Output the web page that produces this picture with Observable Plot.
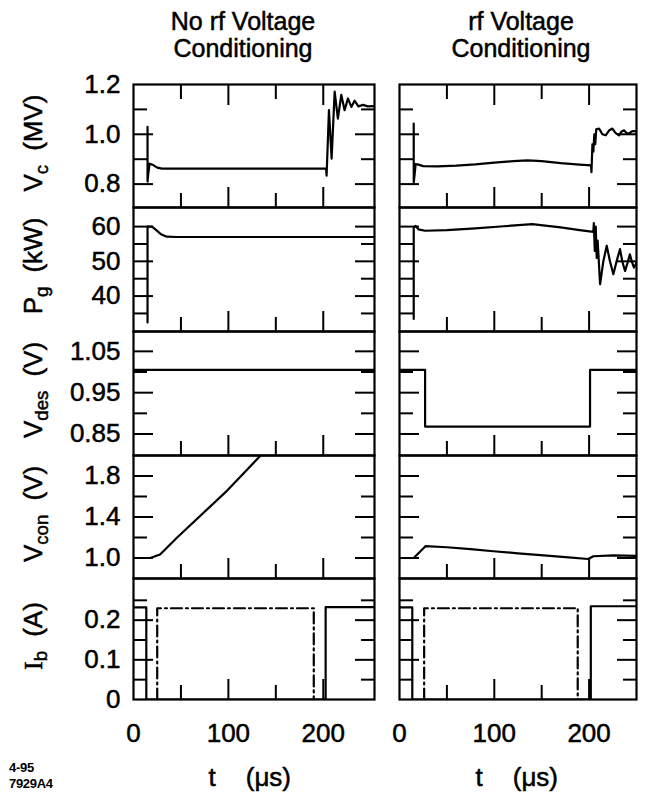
<!DOCTYPE html>
<html><head><meta charset="utf-8">
<script src="https://cdn.jsdelivr.net/npm/d3@7"></script>
<script src="https://cdn.jsdelivr.net/npm/@observablehq/plot@0.6"></script>
<style>
body{margin:0;background:#fff;}
#chart{position:relative;width:649px;height:792px;font-family:"Liberation Sans",Arial,Helvetica,sans-serif;color:#000;overflow:hidden;}
.abs{position:absolute;white-space:nowrap;-webkit-text-stroke:0.5px #000;}
.title{font-size:25px;line-height:27px;text-align:center;width:240px;}
.ylab{font-size:26px;line-height:30px;transform:translate(-50%,-50%) rotate(-90deg);}
.ylab sub{font-size:0.72em;vertical-align:-0.3em;line-height:0;}
.xlab{font-size:26px;line-height:30px;}
.stamp{font-size:13px;font-weight:bold;line-height:16px;letter-spacing:-0.3px;-webkit-text-stroke:0;}
svg text{stroke:#000;stroke-width:0.5px;}
</style></head><body><div id="chart"></div>
<script>
// ---------- column titles & axis labels ----------
const columnTitles = [["No rf Voltage", "Conditioning"], ["rf Voltage", "Conditioning"]];
const rowLabels = [["V", "c", "(MV)"], ["P", "g", "(kW)"], ["V", "des", "(V)"], ["V", "con", "(V)"], ["I", "b", "(A)"]];
const xTickLabels = [0, 100, 200];
const xMinorTicks = [50, 150];
const xMajorTicks = [100, 200];

// y tick values per row
const vcLabels = [0.8, 1.0, 1.2], vcMajor = [0.8, 1.0], vcMinor = [0.9, 1.1];
const pgLabels = [40, 50, 60], pgMajor = [40, 50, 60], pgMinor = [35, 45, 55];
const vdesLabels = [0.85, 0.95, 1.05], vdesMajor = [0.85, 0.95, 1.05], vdesMinor = [0.9, 1.0];
const vconLabels = [1.0, 1.4, 1.8], vconMajor = [1.0, 1.4, 1.8], vconMinor = [1.2, 1.6];
const ibLabels = [0, 0.1, 0.2], ibMajor = [0.1, 0.2], ibMinor = [0.05, 0.15, 0.25];

// ---------- left column: no rf voltage conditioning ----------
const vcLeftT = [14.8, 14.8, 15.5, 17, 20, 25, 30, 203, 203.5, 206, 208.8, 212, 215.4, 219, 222.5, 226, 229.6, 233, 237, 242, 247, 254];
const vcLeftV = [1.03, 0.81, 0.84, 0.882, 0.878, 0.866, 0.862, 0.862, 0.834, 1.097, 0.902, 1.171, 1.063, 1.158, 1.097, 1.144, 1.11, 1.135, 1.112, 1.118, 1.112, 1.113];
const pgLeftT = [14.8, 14.8, 19.5, 24, 29, 35, 45, 254];
const pgLeftV = [32.4, 60, 60, 59, 57.8, 57.1, 57.0, 57.0];
const vdesLeftT = [0, 254];
const vdesLeftV = [1.005, 1.005];
const vconLeftT = [12.4, 17.6, 28, 46, 99, 136];
const vconLeftV = [1.0, 1.0, 1.035, 1.2, 1.66, 2.02];
const ibLeftT = [0, 13.5, 13.5, 202.5, 202.5, 254];
const ibLeftV = [0.232, 0.232, 0, 0, 0.233, 0.233];
const ibRefLeftT = [25, 25, 190, 190];
const ibRefLeftV = [0, 0.23, 0.23, 0];

// ---------- right column: rf voltage conditioning ----------
const vcRightT = [15, 15, 16, 17, 20, 25, 40, 60, 80, 100, 120, 135, 150, 170, 190, 202, 202.5, 203.5, 204.5, 205.5, 206.5, 207.5, 210.5, 214, 217.5, 221, 224.6, 228, 231.6, 234, 236.8, 239.5, 242, 245, 247.4, 250];
const vcRightV = [1.043, 0.807, 0.84, 0.88, 0.878, 0.872, 0.871, 0.874, 0.879, 0.886, 0.892, 0.895, 0.892, 0.884, 0.878, 0.875, 0.848, 0.96, 0.93, 1.0, 0.96, 1.02, 1.023, 1.0, 0.996, 1.015, 1.023, 1.005, 0.996, 1.01, 1.016, 1.005, 1.003, 1.012, 1.013, 1.01];
const pgRightT = [15, 15, 17, 20, 27, 50, 80, 110, 140, 170, 190, 204.5, 205, 206, 207, 208, 209, 211.6, 215, 218.6, 222, 225.6, 229, 232.6, 235, 237.9, 240.5, 243, 245, 247.4, 250];
const pgRightV = [33.4, 59.7, 60.2, 59.2, 58.8, 59.0, 59.5, 60.1, 60.7, 59.8, 59.0, 58.5, 61, 53, 60, 51, 56, 43.4, 50, 54.5, 50, 46.3, 50, 53.5, 50, 47.2, 49.5, 52, 50, 48.2, 49.5];
const vdesRightT = [0, 27, 27, 201, 201, 250];
const vdesRightV = [1.005, 1.005, 0.868, 0.868, 1.005, 1.005];
const vconRightT = [3, 15, 27.4, 50, 75, 99, 125, 152, 175, 199, 204.5, 225.6, 250];
const vconRightV = [1.0, 1.0, 1.115, 1.105, 1.087, 1.066, 1.046, 1.026, 1.008, 0.99, 1.017, 1.026, 1.02];
const ibRightT = [0, 13.5, 13.5, 201.8, 201.8, 250];
const ibRightV = [0.232, 0.232, 0, 0, 0.235, 0.235];
const ibRefRightT = [26, 26, 188, 188];
const ibRefRightV = [0, 0.23, 0.23, 0];

// ---------- layout (pixels) ----------
const rowEdges = [84, 207, 331, 455, 578, 699];
const colLeft = [133, 399], colWidth = [241, 237];
const xDomains = [[0, 254], [0, 250]];

const rows = [
  {domain: [0.706, 1.2], labels: vcLabels, major: vcMajor, minor: vcMinor, fmt: d3.format(".1f"), topTicks: true,
   series: [[[vcLeftT, vcLeftV]], [[vcRightT, vcRightV]]]},
  {domain: [29.8, 65.5], labels: pgLabels, major: pgMajor, minor: pgMinor, fmt: d3.format("d"),
   series: [[[pgLeftT, pgLeftV]], [[pgRightT, pgRightV]]]},
  {domain: [0.798, 1.098], labels: vdesLabels, major: vdesMajor, minor: vdesMinor, fmt: d3.format(".2f"),
   series: [[[vdesLeftT, vdesLeftV]], [[vdesRightT, vdesRightV]]]},
  {domain: [0.8, 2.0], labels: vconLabels, major: vconMajor, minor: vconMinor, fmt: d3.format(".1f"),
   series: [[[vconLeftT, vconLeftV]], [[vconRightT, vconRightV]]]},
  {domain: [0, 0.305], labels: ibLabels, major: ibMajor, minor: ibMinor, fmt: d => d === 0 ? "0" : d3.format(".1f")(d),
   series: [[[ibLeftT, ibLeftV], [ibRefLeftT, ibRefLeftV, "11,4,2,4"]], [[ibRightT, ibRightV], [ibRefRightT, ibRefRightV, "11,4,2,4"]]]}
];

const chart = document.getElementById("chart");
const MAJ = 20, MIN = 14;
const blank = () => "";

rows.forEach((r, ri) => {
  [0, 1].forEach(ci => {
    const fw = colWidth[ci];
    const ft = rowEdges[ri], fh = rowEdges[ri + 1] - rowEdges[ri];
    const mL = ci === 0 ? 90 : 3, mR = 3, mT = 3, mB = ri === 4 ? 55 : 3;
    const [xa, xb] = xDomains[ci], [ya, yb] = r.domain;
    const marks = [];

    // inward ticks: axis tick marks shifted into the frame by their own length
    [[r.major, MAJ], [r.minor, MIN]].forEach(([vals, len]) => {
      marks.push(Plot.axisY({anchor: "left", ticks: vals, tickSize: len, dx: len, tickFormat: blank, strokeWidth: 2, label: null}));
      marks.push(Plot.axisY({anchor: "right", ticks: vals, tickSize: len, dx: -len, tickFormat: blank, strokeWidth: 2, label: null}));
    });
    [[xMajorTicks, MAJ], [xMinorTicks, MIN]].forEach(([vals, len]) => {
      marks.push(Plot.axisX({anchor: "bottom", ticks: vals, tickSize: len, dy: -len, tickFormat: blank, strokeWidth: 2, label: null}));
      if (r.topTicks) marks.push(Plot.axisX({anchor: "top", ticks: vals, tickSize: len, dy: len, tickFormat: blank, strokeWidth: 2, label: null}));
    });

    // data traces
    r.series[ci].forEach(([T, V, dash]) => {
      const o = {x: T, y: V, stroke: "black", strokeWidth: 2.2, clip: true};
      if (dash) o.strokeDasharray = dash;
      marks.push(Plot.line({length: T.length}, o));
    });
    marks.push(Plot.frame({stroke: "black", strokeWidth: 2.2}));

    // tick labels
    if (ci === 0) {
      marks.push(Plot.axisY({anchor: "left", ticks: r.labels, tickSize: 0, tickPadding: 13,
        tickFormat: r.fmt, fontSize: 26, label: null}));
    }
    if (ri === 4) {
      marks.push(Plot.axisX({anchor: "bottom", ticks: xTickLabels, tickSize: 0, tickPadding: 24,
        tickFormat: d3.format("d"), fontSize: 26, label: null}));
    }
    const svg = Plot.plot({
      width: fw + mL + mR, height: fh + mT + mB,
      marginLeft: mL, marginRight: mR, marginTop: mT, marginBottom: mB,
      x: {domain: [xa, xb]},
      y: {domain: [ya, yb]},
      style: {fontFamily: "'Liberation Sans', Arial", fontSize: "26px", color: "black", overflow: "visible"},
      marks
    });
    svg.style.position = "absolute";
    svg.style.left = (colLeft[ci] - mL) + "px";
    svg.style.top = (ft - mT) + "px";
    chart.appendChild(svg);
  });
});

// column titles
const titleCenters = [243, 521];
columnTitles.forEach((lines, ci) => {
  const d = document.createElement("div");
  d.className = "abs title";
  d.style.left = (titleCenters[ci] - 120) + "px";
  d.style.top = "8px";
  d.innerHTML = lines.join("<br>");
  chart.appendChild(d);
});

// row labels (rotated)
rowLabels.forEach(([main, sub, unit], ri) => {
  const d = document.createElement("div");
  d.className = "abs ylab";
  d.style.left = "33px";
  d.style.top = ((rowEdges[ri] + rowEdges[ri + 1]) / 2 - 3) + "px";
  const mainHtml = main === "I" ? `<span style="font-family:'Liberation Serif',serif">I</span>` : main;
  d.innerHTML = `${mainHtml}<sub>${sub}</sub><span style="display:inline-block;width:14px"></span>${unit}`;
  chart.appendChild(d);
});

// x axis titles
const xTitleCenters = [250, 517];
xTitleCenters.forEach(cx => {
  const d = document.createElement("div");
  d.className = "abs xlab";
  d.style.top = "762px";
  d.innerHTML = `t<span style="display:inline-block;width:30px"></span>(\u03bcs)`;
  chart.appendChild(d);
  d.style.left = (cx - d.offsetWidth / 2) + "px";
});

// figure stamp
const stamp = document.createElement("div");
stamp.className = "abs stamp";
stamp.style.left = "9px";
stamp.style.top = "760px";
stamp.innerHTML = "4-95<br>7929A4";
chart.appendChild(stamp);
</script></body></html>
